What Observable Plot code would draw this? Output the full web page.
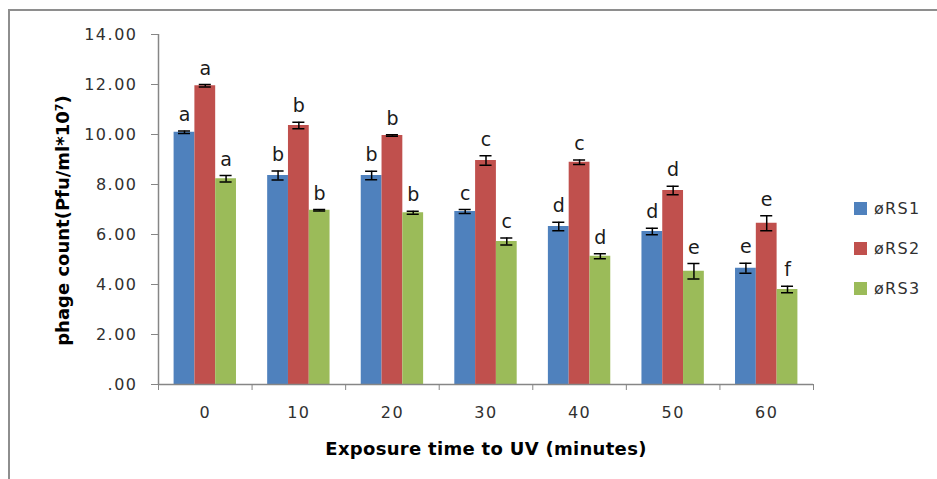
<!DOCTYPE html>
<html><head><meta charset="utf-8">
<script src="https://cdn.jsdelivr.net/npm/d3@7"></script>
<script src="https://cdn.jsdelivr.net/npm/@observablehq/plot@0.6"></script>
<style>
body{margin:0;background:#fff;}
#wrap{position:relative;width:937px;height:479px;overflow:hidden;}
#border{position:absolute;left:8px;top:9px;right:-5px;bottom:-5px;border-top:2px solid #8e8e8e;border-left:2px solid #8e8e8e;}
#chart{position:absolute;left:0;top:0;}
#legend{position:absolute;left:854px;top:200px;font:16px "DejaVu Sans";color:#303030;letter-spacing:1.3px;}
#legend .row{display:flex;align-items:center;height:40px;margin-top:-12px;margin-bottom:12px;}
#legend .sw{width:13px;height:13px;margin-right:7px;}
</style></head><body>
<div id="wrap"><div id="border"></div><div id="chart"></div><div id="legend"></div></div>
<script>
const times = [0, 10, 20, 30, 40, 50, 60];
const series = ["øRS1", "øRS2", "øRS3"];
const colors = ["#4F81BD", "#C0504D", "#9BBB59"];
const rs1 = [10.09, 8.36, 8.36, 6.92, 6.32, 6.12, 4.65];
const rs2 = [11.95, 10.36, 9.96, 8.96, 8.89, 7.76, 6.45];
const rs3 = [8.23, 6.97, 6.87, 5.72, 5.13, 4.53, 3.80];
const err1 = [0.05, 0.18, 0.17, 0.08, 0.17, 0.13, 0.20];
const err2 = [0.05, 0.13, 0.03, 0.19, 0.09, 0.17, 0.30];
const err3 = [0.13, 0.03, 0.06, 0.14, 0.10, 0.31, 0.13];
const let1 = ["a", "b", "b", "c", "d", "d", "e"];
const let2 = ["a", "b", "b", "c", "c", "d", "e"];
const let3 = ["a", "b", "b", "c", "d", "e", "f"];
const yTicks = [0, 2, 4, 6, 8, 10, 12, 14];
const xLabel = "Exposure time to UV (minutes)";
const yLabel = "phage count(Pfu/ml*10⁷)";

const vals = [rs1, rs2, rs3], errs = [err1, err2, err3], lets = [let1, let2, let3];
const step = times[1] - times[0];
const bw = step * (2 / 3) / series.length; // bar width in data units
const capHalf = bw * 0.29;
const rows = [];
series.forEach((s, i) => times.forEach((t, j) => {
  const c = t + (i - 1) * bw;
  rows.push({t, s, i, v: vals[i][j], e: errs[i][j], lab: lets[i][j], c,
    x1: c - bw / 2, x2: c + bw / 2, lo: vals[i][j] - errs[i][j], hi: vals[i][j] + errs[i][j]});
}));
const bounds = [times[0] - step / 2, ...times.map(t => t + step / 2)];
const fmt = d => d === 0 ? ".00" : d.toFixed(2);
const grey = "#868686";

const chart = Plot.plot({
  width: 937, height: 479,
  marginLeft: 158, marginRight: 124, marginTop: 34, marginBottom: 95,
  style: {fontFamily: "DejaVu Sans", background: "transparent", color: "#303030"},
  x: {type: "linear", domain: [bounds[0], bounds[bounds.length - 1]]},
  y: {domain: [0, 14]},
  color: {domain: series, range: colors},
  marks: [
    Plot.rectY(rows, {x1: "x1", x2: "x2", y1: 0, y2: "v", fill: "s"}),
    Plot.ruleX(rows, {x: "c", y1: "lo", y2: "hi", stroke: "black", strokeWidth: 1.5}),
    Plot.ruleY(rows, {y: "hi", x1: d => d.c - capHalf, x2: d => d.c + capHalf, stroke: "black", strokeWidth: 1.5}),
    Plot.ruleY(rows, {y: "lo", x1: d => d.c - capHalf, x2: d => d.c + capHalf, stroke: "black", strokeWidth: 1.5}),
    Plot.text(rows, {x: "c", y: "hi", text: "lab", dy: -10, lineAnchor: "bottom", fontSize: 19, fill: "#1a1a1a"}),
    Plot.ruleX([bounds[0]], {stroke: grey, strokeWidth: 1.5}),
    Plot.ruleY([0], {stroke: grey, strokeWidth: 1.5}),
    Plot.axisY({ticks: yTicks, tickFormat: fmt, tickSize: 7, tickPadding: 14, stroke: grey,
      label: yLabel, labelAnchor: "center", labelArrow: "none", labelOffset: 102}),
    Plot.axisX({ticks: bounds, tickFormat: () => "", tickSize: 6, stroke: grey, label: null}),
    Plot.axisX({ticks: times, tickFormat: d => String(d), tickSize: 0, tickPadding: 22,
      label: xLabel, labelAnchor: "center", labelArrow: "none", labelOffset: 70})
  ]
});
document.getElementById("chart").appendChild(chart);
const svg = d3.select(chart);
svg.selectAll("[aria-label='y-axis tick label'] text, [aria-label='x-axis tick label'] text")
  .style("font-size", "16px").style("letter-spacing", "1.5px");
svg.selectAll("[aria-label='y-axis label']")
  .attr("transform", function () { return "translate(0,11) " + (this.getAttribute("transform") || ""); });
svg.selectAll("[aria-label='y-axis label'] text")
  .style("font-weight", "bold").style("font-size", "18px").style("fill", "#000");
svg.selectAll("[aria-label='x-axis label'] text")
  .style("font-weight", "bold").style("font-size", "18px").style("letter-spacing", "0.3px").style("fill", "#000");

const legend = d3.select("#legend");
series.forEach((s, i) => {
  const r = legend.append("div").attr("class", "row");
  r.append("div").attr("class", "sw").style("background", colors[i]);
  r.append("span").text(s);
});
</script>
</body></html>
